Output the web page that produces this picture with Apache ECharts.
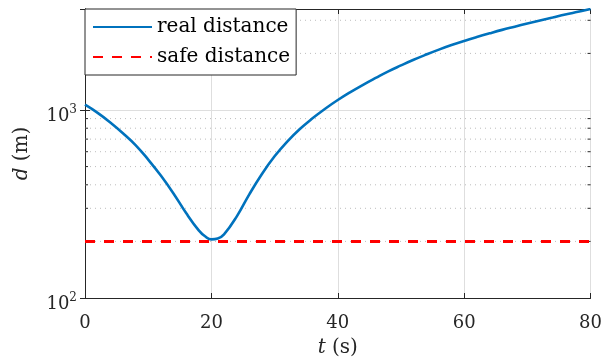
<!DOCTYPE html>
<html>
<head>
<meta charset="utf-8">
<script src="https://cdn.jsdelivr.net/npm/echarts@6/dist/echarts.min.js"></script>
<style>
html,body{margin:0;padding:0;background:#fff;}
#chart{width:605px;height:363px;}
</style>
</head>
<body>
<div id="chart"></div>
<script>
// ---- data ----
const times = [0,2,4,6,8,10,12,14,16,18,19,20,21,22,24,26,28,30,32,34,36,38,40,42,44,46,48,50,52,54,56,58,60,62,64,66,68,70,72,74,76,78,80];
const realDistance = [1067,966,859,753,651,545,448,360,283,229,213,205,207,218,271,356,457,567,679,792,903,1016,1130,1245,1362,1481,1606,1726,1850,1972,2095,2215,2331,2444,2556,2668,2775,2885,2995,3105,3220,3330,3445];
const safeTimes = [0, 80];
const safeDistance = [200, 200];
const yMinorTicks = [200,300,400,500,600,700,800,900,2000,3000];
const seriesNames = ['real distance', 'safe distance'];

const AX = '#262626';
const FONT = 'DejaVu Serif';

const chart = echarts.init(document.getElementById('chart'), null, {renderer: 'canvas'});

const supLabel = function (v) {
  if (Math.abs(v - 100) < 1e-6) return '{b|10}{s|2}';
  if (Math.abs(v - 1000) < 1e-6) return '{b|10}{s|3}';
  return '';
};

const option = {
  animation: false,
  backgroundColor: '#fff',
  grid: {left: 85, right: 14, top: 9, bottom: 65, containLabel: false},
  legend: {
    show: true,
    data: seriesNames,
    orient: 'vertical',
    left: 85, top: 9,
    backgroundColor: '#fff',
    borderColor: AX, borderWidth: 1, borderRadius: 0,
    padding: [6, 6, 6, 7],
    itemWidth: 59, itemHeight: 14, itemGap: 6,
    itemStyle: {opacity: 0},
    textStyle: {fontFamily: FONT, fontSize: 20, color: '#000', lineHeight: 24},
    z: 10
  },
  xAxis: [{
    type: 'value', min: 0, max: 80, interval: 20,
    position: 'bottom',
    name: '{i|t} (s)', nameLocation: 'middle', nameGap: 40,
    nameTextStyle: {fontFamily: FONT, fontSize: 20, color: AX,
      rich: {i: {fontFamily: FONT, fontSize: 20, fontStyle: 'italic', color: AX}}},
    axisLine: {show: true, lineStyle: {color: AX, width: 1}},
    axisTick: {show: true, inside: true, length: 5, lineStyle: {color: AX}},
    axisLabel: {fontFamily: FONT, fontSize: 18, color: AX, margin: 16},
    splitLine: {show: true, lineStyle: {color: '#dedede', width: 1}}
  }, {
    type: 'value', min: 0, max: 80, interval: 20,
    position: 'top',
    axisLine: {show: true, lineStyle: {color: AX, width: 1}},
    axisTick: {show: true, inside: true, length: 5, lineStyle: {color: AX}},
    axisLabel: {show: false},
    splitLine: {show: false}
  }],
  yAxis: [{
    type: 'log', logBase: 10, min: 100, max: 3445,
    position: 'left',
    name: '{i|d} (m)', nameLocation: 'middle', nameGap: 53, nameRotate: 90,
    nameTextStyle: {fontFamily: FONT, fontSize: 20, color: AX,
      rich: {i: {fontFamily: FONT, fontSize: 20, fontStyle: 'italic', color: AX}}},
    axisLine: {show: true, lineStyle: {color: AX, width: 1}},
    axisTick: {show: true, inside: true, length: 5, lineStyle: {color: AX}},
    axisLabel: {
      formatter: supLabel, margin: 8, color: AX, padding: [9, 0, 0, 0],
      rich: {
        b: {fontFamily: FONT, fontSize: 18, color: AX, verticalAlign: 'bottom'},
        s: {fontFamily: FONT, fontSize: 12, color: AX, verticalAlign: 'bottom', padding: [0,0,9,0]}
      }
    },
    splitLine: {show: true, lineStyle: {color: '#dedede', width: 1}}
  }, {
    type: 'log', logBase: 10, min: 100, max: 3445,
    position: 'right',
    axisLine: {show: true, lineStyle: {color: AX, width: 1}},
    axisTick: {show: true, inside: true, length: 5, lineStyle: {color: AX}},
    axisLabel: {show: false},
    splitLine: {show: false}
  }],
  series: [
    {
      // minor log grid lines and minor ticks (both sides)
      type: 'custom',
      xAxisIndex: 0, yAxisIndex: 0,
      silent: true, z: 1,
      data: yMinorTicks.map(v => [0, v]),
      renderItem: function (params, api) {
        const v = api.value(1);
        const p0 = api.coord([0, v]);
        const p1 = api.coord([80, v]);
        return {
          type: 'group',
          children: [
            {type: 'line', shape: {x1: p0[0], y1: p0[1], x2: p1[0], y2: p1[1]},
             style: {stroke: '#bdbdbd', lineWidth: 1, lineDash: [1, 4]}},
            {type: 'line', shape: {x1: p0[0], y1: p0[1], x2: p0[0] + 3, y2: p0[1]},
             style: {stroke: AX, lineWidth: 1}},
            {type: 'line', shape: {x1: p1[0] - 3, y1: p1[1], x2: p1[0], y2: p1[1]},
             style: {stroke: AX, lineWidth: 1}}
          ]
        };
      }
    },
    {
      name: seriesNames[1],
      type: 'line', xAxisIndex: 0, yAxisIndex: 0,
      data: safeTimes.map((t, i) => [t, safeDistance[i]]),
      symbol: 'none', z: 3,
      lineStyle: {color: '#ff0000', width: 3, type: [10, 9]},
      itemStyle: {color: '#ff0000'}
    },
    {
      name: seriesNames[0],
      type: 'line', xAxisIndex: 0, yAxisIndex: 0,
      data: times.map((t, i) => [t, realDistance[i]]),
      symbol: 'none', smooth: 0.45, z: 4,
      lineStyle: {color: '#0072BD', width: 2.6},
      itemStyle: {color: '#0072BD'}
    }
  ]
};
chart.setOption(option);
</script>
</body>
</html>
